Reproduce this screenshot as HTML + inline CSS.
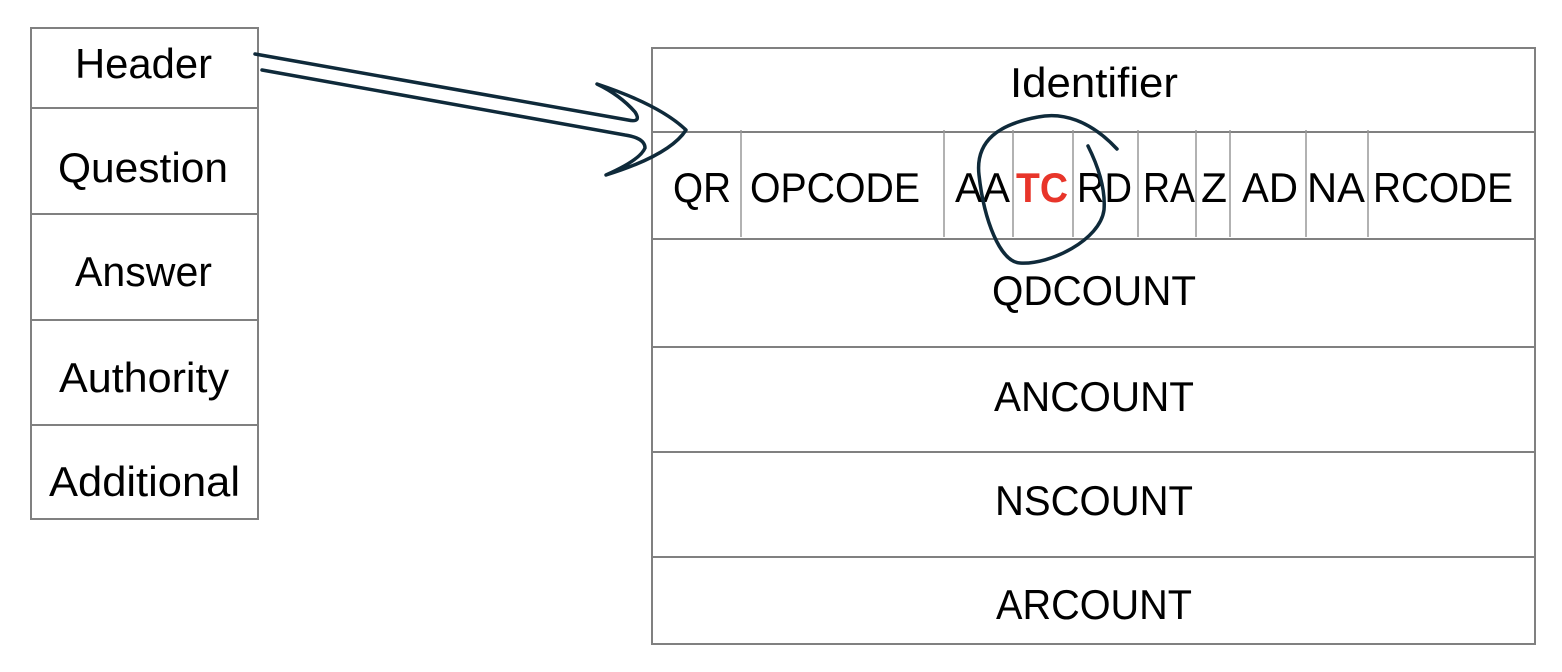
<!DOCTYPE html>
<html><head><style>
html,body{margin:0;padding:0;background:#fff;}
svg{display:block;}
text{font-family:"Liberation Sans",sans-serif;font-size:42px;fill:#000;}
</style></head><body>
<svg width="1562" height="672" viewBox="0 0 1562 672" xmlns="http://www.w3.org/2000/svg">
<g stroke="#808080" stroke-width="2" fill="none">
<rect x="31" y="28" width="227" height="491"/>
<line x1="31" y1="108" x2="258" y2="108"/>
<line x1="31" y1="214" x2="258" y2="214"/>
<line x1="31" y1="320" x2="258" y2="320"/>
<line x1="31" y1="425" x2="258" y2="425"/>
<rect x="652" y="48" width="883" height="596"/>
<line x1="652" y1="132" x2="1535" y2="132"/>
<line x1="652" y1="239" x2="1535" y2="239"/>
<line x1="652" y1="347" x2="1535" y2="347"/>
<line x1="652" y1="452" x2="1535" y2="452"/>
<line x1="652" y1="557" x2="1535" y2="557"/>
</g>
<g stroke="#999" stroke-width="1.5">
<line x1="741" y1="130" x2="741" y2="237"/>
<line x1="944" y1="130" x2="944" y2="237"/>
<line x1="1013" y1="130" x2="1013" y2="237"/>
<line x1="1073" y1="130" x2="1073" y2="237"/>
<line x1="1138" y1="130" x2="1138" y2="237"/>
<line x1="1196" y1="130" x2="1196" y2="237"/>
<line x1="1230" y1="130" x2="1230" y2="237"/>
<line x1="1306" y1="130" x2="1306" y2="237"/>
<line x1="1368" y1="130" x2="1368" y2="237"/>
</g>
<g>
<text x="75" y="78" textLength="137" lengthAdjust="spacingAndGlyphs">Header</text>
<text x="58" y="182" textLength="170" lengthAdjust="spacingAndGlyphs">Question</text>
<text x="75" y="286" textLength="137" lengthAdjust="spacingAndGlyphs">Answer</text>
<text x="59" y="392" textLength="170" lengthAdjust="spacingAndGlyphs">Authority</text>
<text x="49" y="496" textLength="191" lengthAdjust="spacingAndGlyphs">Additional</text>
<text x="1010" y="97" textLength="168" lengthAdjust="spacingAndGlyphs">Identifier</text>
<text x="992" y="305" textLength="204" lengthAdjust="spacingAndGlyphs">QDCOUNT</text>
<text x="994" y="411" textLength="200" lengthAdjust="spacingAndGlyphs">ANCOUNT</text>
<text x="995" y="515" textLength="198" lengthAdjust="spacingAndGlyphs">NSCOUNT</text>
<text x="996" y="619" textLength="196" lengthAdjust="spacingAndGlyphs">ARCOUNT</text>
</g>
<g>
<text x="673" y="202" textLength="58" lengthAdjust="spacingAndGlyphs">QR</text>
<text x="750" y="202" textLength="170" lengthAdjust="spacingAndGlyphs">OPCODE</text>
<text x="955" y="202" textLength="55" lengthAdjust="spacingAndGlyphs">AA</text>
<text x="1016" y="202" textLength="52" lengthAdjust="spacingAndGlyphs" style="fill:#e8352a;font-weight:bold">TC</text>
<text x="1077" y="202" textLength="55" lengthAdjust="spacingAndGlyphs">RD</text>
<text x="1143" y="202" textLength="52" lengthAdjust="spacingAndGlyphs">RA</text>
<text x="1201" y="202" textLength="26" lengthAdjust="spacingAndGlyphs">Z</text>
<text x="1242" y="202" textLength="56" lengthAdjust="spacingAndGlyphs">AD</text>
<text x="1307" y="202" textLength="58" lengthAdjust="spacingAndGlyphs">NA</text>
<text x="1373" y="202" textLength="140" lengthAdjust="spacingAndGlyphs">RCODE</text>
</g>
<g stroke="#0f2a3a" stroke-width="3.5" fill="none" stroke-linecap="round" stroke-linejoin="round">
<path d="M255,54 L628,120 Q642,123 635,112 Q620,95 597,84 Q660,105 686,130 Q670,155 606,175 Q640,160 645,148 Q645,138 625,135 L262,70"/>
<path d="M1117,149 C1090,120 1062,112 1038,117 C1000,124 975,140 979,175 C984,220 1000,262 1020,263 C1050,265 1100,240 1104,210 C1106,185 1095,160 1088,146"/>
</g>
</svg>
</body></html>
